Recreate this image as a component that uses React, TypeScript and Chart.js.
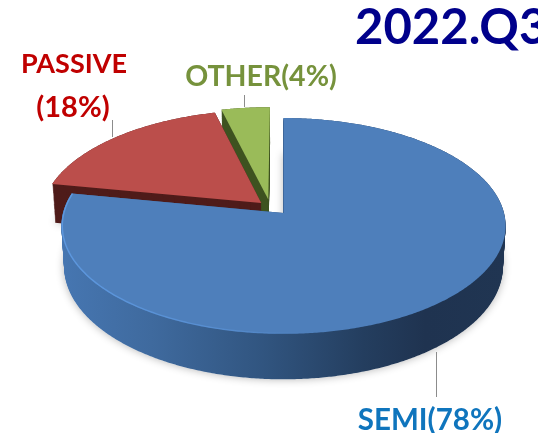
import React, { useEffect, useRef } from "react";
import { Chart, registerables } from "chart.js";

Chart.register(...registerables);

const categories = ["SEMI", "PASSIVE", "OTHER"];
const shares = [78, 18, 4];
const topColors = ["#4e7fbb", "#bb4e4b", "#9abb59"];
const sideColors = ["#2c4a70", "#4f1c1a", "#3f5320"];
const labelColors = ["#0f75bd", "#c00000", "#76923c"];
const titleText = "2022.Q3";

// view of the pie disc (perspective tilt) and how far each slice is pulled out
const VIEW = { cx: 283.5, cy: 213, rx: 220.5, a: 80.8, tilt: -0.12, depth: 40, shrink: 0.012 };
const EXPLODE: [number, number][] = [[0, 0], [-0.102, -0.095], [-0.07, -0.13]];

const FONT = "Lato, 'Open Sans', sans-serif";

function project(x: number, y: number, t = 0): [number, number] {
  const w = 1 + VIEW.tilt * y;
  const k = 1 - VIEW.shrink * t;
  return [
    VIEW.cx + (VIEW.rx * x * k) / w,
    (VIEW.a * y + VIEW.cy) / w + (VIEW.depth * t) / w,
  ];
}

function slicePath(ctx: CanvasRenderingContext2D, el: any, i: number, t: number) {
  const [ex, ey] = EXPLODE[i];
  const start = el.startAngle;
  const end = el.endAngle;
  const n = Math.max(8, Math.ceil(((end - start) * 180) / Math.PI) * 2);
  ctx.beginPath();
  const tip = project(ex, ey, t);
  ctx.moveTo(tip[0], tip[1]);
  for (let s = 0; s <= n; s++) {
    const a = start + ((end - start) * s) / n;
    const p = project(Math.cos(a) + ex, Math.sin(a) + ey, t);
    ctx.lineTo(p[0], p[1]);
  }
  ctx.closePath();
}

function sideFill(ctx: CanvasRenderingContext2D, i: number) {
  if (i !== 0) return sideColors[i];
  const g = ctx.createLinearGradient(63, 0, 505, 0);
  g.addColorStop(0, "#4676b1");
  g.addColorStop(0.2, "#3f6a9e");
  g.addColorStop(0.45, "#315580");
  g.addColorStop(0.68, "#243e5f");
  g.addColorStop(0.82, "#1f3350");
  g.addColorStop(1, "#203552");
  return g;
}

const drawLabel = (ctx: CanvasRenderingContext2D, text: string, x: number, y: number, color: string, size: number) => {
  ctx.fillStyle = color;
  ctx.font = `bold ${size}px ${FONT}`;
  ctx.textAlign = "center";
  ctx.textBaseline = "middle";
  ctx.fillText(text, x, y);
};

const leader = (ctx: CanvasRenderingContext2D, x: number, y0: number, y1: number) => {
  ctx.strokeStyle = "#8c8c8c";
  ctx.lineWidth = 1;
  ctx.beginPath();
  ctx.moveTo(x + 0.5, y0);
  ctx.lineTo(x + 0.5, y1);
  ctx.stroke();
};

const pie3d = {
  id: "pie3d",
  beforeDatasetsDraw(chart: any) {
    const ctx: CanvasRenderingContext2D = chart.ctx;
    const els = chart.getDatasetMeta(0).data;
    ctx.save();
    // soft ground shadow
    for (const i of [1, 0]) {
      ctx.save();
      ctx.shadowColor = "rgba(0,0,0,0.3)";
      ctx.shadowBlur = 9;
      ctx.fillStyle = "#ffffff";
      slicePath(ctx, els[i], i, 1);
      ctx.fill();
      ctx.restore();
    }
    // side walls, back slices first
    for (const i of [2, 1, 0]) {
      ctx.fillStyle = sideFill(ctx, i);
      for (let d = VIEW.depth; d >= 0; d--) {
        slicePath(ctx, els[i], i, d / VIEW.depth);
        ctx.fill();
      }
    }
    // top faces
    for (const i of [1, 2, 0]) {
      ctx.fillStyle = topColors[i];
      slicePath(ctx, els[i], i, 0);
      ctx.fill();
    }
    // light rim on the front-left edge of the large slice
    const el = els[0];
    const rim = ctx.createLinearGradient(63, 0, 310, 0);
    rim.addColorStop(0, "rgba(98,160,235,0.75)");
    rim.addColorStop(0.6, "rgba(98,160,235,0.45)");
    rim.addColorStop(1, "rgba(98,160,235,0)");
    ctx.strokeStyle = rim;
    ctx.lineWidth = 1.4;
    ctx.beginPath();
    for (let s = 0; s <= 180; s++) {
      const a = el.endAngle - ((el.endAngle - el.startAngle) * 0.55 * s) / 180;
      const p = project(Math.cos(a) * 0.996, Math.sin(a) * 0.996);
      if (s === 0) ctx.moveTo(p[0], p[1]);
      else ctx.lineTo(p[0], p[1]);
    }
    ctx.stroke();
    ctx.restore();
    return false;
  },
  afterDraw(chart: any) {
    const ctx: CanvasRenderingContext2D = chart.ctx;
    ctx.save();
    leader(ctx, 112, 120, 137);
    leader(ctx, 244, 95, 107);
    leader(ctx, 436, 352, 397);
    drawLabel(ctx, categories[1], 74, 64, labelColors[1], 27);
    drawLabel(ctx, `(${shares[1]}%)`, 73, 108, labelColors[1], 29);
    drawLabel(ctx, `${categories[2]}(${shares[2]}%)`, 261, 77, labelColors[2], 28.5);
    drawLabel(ctx, `${categories[0]}(${shares[0]}%)`, 430, 420, labelColors[0], 29.5);
    ctx.fillStyle = "#00008b";
    ctx.font = `bold 49px ${FONT}`;
    ctx.textAlign = "left";
    ctx.textBaseline = "middle";
    ctx.fillText(titleText, 355, 28);
    ctx.restore();
  },
};

export default function App() {
  const ref = useRef<HTMLCanvasElement>(null);
  useEffect(() => {
    const chart = new Chart(ref.current as HTMLCanvasElement, {
      type: "pie",
      data: {
        labels: categories,
        datasets: [{ data: shares, backgroundColor: topColors, borderWidth: 0 }],
      },
      options: {
        animation: false,
        responsive: false,
        events: [],
        plugins: { legend: { display: false }, tooltip: { enabled: false }, title: { display: false } },
      },
      plugins: [pie3d],
    } as any);
    return () => chart.destroy();
  }, []);
  return (
    <div style={{ position: "fixed", left: 0, top: 0, width: 538, height: 433, overflow: "hidden", background: "#fff" }}>
      <canvas ref={ref} width={538} height={433} style={{ display: "block", filter: "blur(0.5px)" }} />
    </div>
  );
}
